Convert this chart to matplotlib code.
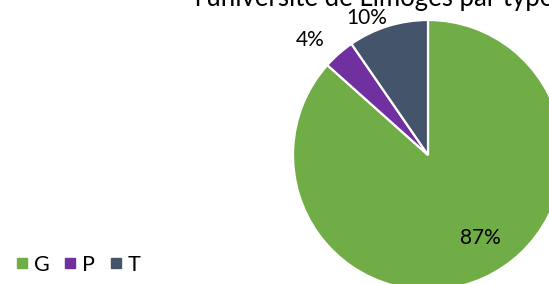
import numpy as np
import matplotlib
matplotlib.use("Agg")
import matplotlib.pyplot as plt
from matplotlib.lines import Line2D

categories = ["G", "P", "T"]
values = [86.6, 3.8, 9.6]
colors = ["#70AD47", "#7030A0", "#44546A"]
title_text = "l'université de Limoges par type"

plt.rcParams['font.family'] = ['Lato', 'DejaVu Sans']

W, H = 549, 284
fig = plt.figure(figsize=(W / 100, H / 100), dpi=100)

cx, cy, R = 428, 155, 135
ax = fig.add_axes([(cx - R) / W, (H - cy - R) / H, 2 * R / W, 2 * R / H])
wedges, _ = ax.pie(values, colors=colors, startangle=90, counterclock=False,
                   radius=1, wedgeprops=dict(edgecolor="white", linewidth=1.6))
ax.set_xlim(-1, 1)
ax.set_ylim(-1, 1)
ax.set_aspect("equal")
ax.axis("off")
for w in wedges:
    w.set_clip_on(False)

# label placement (best-fit style): radial distance and angle nudge per slice
label_r = [0.73, 1.22, 1.11]
label_nudge = [8, 4.5, 7]
for w, v, r, dn in zip(wedges, values, label_r, label_nudge):
    mid = 0.5 * (w.theta1 + w.theta2) + dn
    x = r * np.cos(np.radians(mid))
    y = r * np.sin(np.radians(mid))
    ax.text(x, y, f"{v:.0f}%", ha="center", va="center", fontsize=15,
            color="#000000", clip_on=False)

fig.text(195 / W, (H - 6) / H, title_text, ha="left", va="baseline",
         fontsize=18.5, color="#000000")

handles = [Line2D([0], [0], marker="s", linestyle="none", markersize=6.5,
                  markerfacecolor=c, markeredgecolor=c) for c in colors]
fig.legend(handles, categories, loc="center left", bbox_to_anchor=(14 / W, (H - 265) / H),
           ncol=3, frameon=False, fontsize=15.5, handlelength=0.7, handletextpad=0.22,
           columnspacing=0.6, borderaxespad=0, borderpad=0)

fig.savefig("out.png", dpi=100)
